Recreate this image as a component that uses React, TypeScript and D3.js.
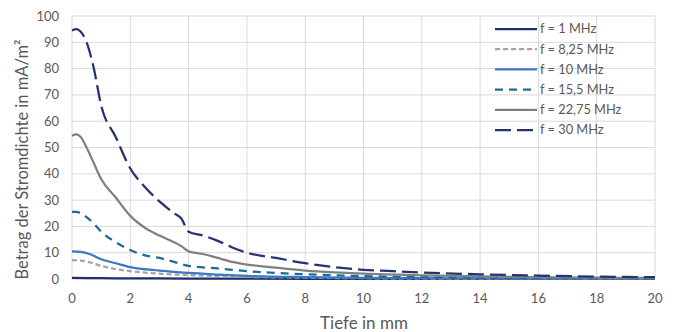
import React, { useEffect, useRef } from "react";
import * as d3 from "d3";

// depth in mm
const depth1 = [0, 1, 2, 4, 6, 10, 14, 20];
const f1 = [0.4, 0.3, 0.25, 0.15, 0.1, 0.05, 0.03, 0.02];

const depth825 = [0, 0.3, 0.6, 1, 1.5, 2, 3, 4, 5, 6, 8, 10, 12, 14, 16, 18, 20];
const f825 = [7.2, 7, 6.4, 5, 3.8, 3, 2, 1.5, 1.1, 0.8, 0.5, 0.3, 0.2, 0.15, 0.1, 0.08, 0.05];

const depth10 = [0, 0.3, 0.6, 1, 1.5, 2, 3, 4, 5, 6, 8, 10, 12, 14, 16, 18, 20];
const f10 = [10.5, 10.3, 9.5, 7.5, 6, 4.5, 3.2, 2.3, 1.7, 1.2, 0.7, 0.4, 0.3, 0.2, 0.15, 0.1, 0.1];

const depth155 = [0, 0.15, 0.3, 0.5, 0.75, 1, 1.5, 2, 2.5, 3, 3.5, 4, 5, 6, 7, 8, 9, 10, 12, 14, 16, 18, 20];
const f155 = [25.5, 25.5, 25, 23.5, 21, 18, 14, 11, 9, 8, 6.5, 5, 4, 3, 2.3, 1.8, 1.4, 1.1, 0.7, 0.5, 0.35, 0.25, 0.2];

const depth2275 = [0, 0.15, 0.3, 0.5, 0.75, 1, 1.5, 2, 2.5, 3, 3.5, 3.75, 4, 4.5, 5, 5.5, 6, 7, 8, 9, 10, 12, 14, 16, 18, 20];
const f2275 = [54.5, 55, 54, 50, 44, 38, 31, 24, 19.5, 16.5, 14, 12.5, 10.5, 9.5, 8, 6.5, 5.5, 4.3, 3.2, 2.5, 2, 1.4, 1, 0.7, 0.5, 0.4];

const depth30 = [0, 0.15, 0.3, 0.5, 0.75, 1, 1.5, 2, 2.5, 3, 3.5, 3.75, 4, 4.5, 5, 5.5, 6, 7, 8, 9, 10, 11, 12, 14, 16, 18, 20];
const f30 = [94.5, 95, 94, 90, 80, 66, 54, 42, 35, 29.5, 25, 23, 18, 16.5, 14.5, 12, 10, 8, 6, 4.5, 3.5, 3, 2.5, 1.8, 1.3, 0.9, 0.7];

const seriesNames = ["f = 1 MHz", "f = 8,25 MHz", "f = 10 MHz", "f = 15,5 MHz", "f = 22,75 MHz", "f = 30 MHz"];
const xTicks = [0, 2, 4, 6, 8, 10, 12, 14, 16, 18, 20];
const yTicks = [0, 10, 20, 30, 40, 50, 60, 70, 80, 90, 100];

const series = [
  { name: seriesNames[0], xs: depth1, ys: f1, color: "#1f2d6b", dash: null },
  { name: seriesNames[1], xs: depth825, ys: f825, color: "#a5a5a5", dash: "5,3" },
  { name: seriesNames[2], xs: depth10, ys: f10, color: "#3a7ac2", dash: null },
  { name: seriesNames[3], xs: depth155, ys: f155, color: "#1b6b9b", dash: "8,6" },
  { name: seriesNames[4], xs: depth2275, ys: f2275, color: "#808080", dash: null },
  { name: seriesNames[5], xs: depth30, ys: f30, color: "#25346e", dash: "16,6" },
];

export default function App() {
  const svgRef = useRef<SVGSVGElement>(null);

  useEffect(() => {
    const svg = d3.select(svgRef.current);
    svg.selectAll("*").remove();

    const font = "Lato, 'Open Sans', sans-serif";
    const x = d3.scaleLinear().domain([0, 20]).range([72, 655]);
    const y = d3.scaleLinear().domain([0, 100]).range([279, 16]);

    // grid
    svg
      .append("g")
      .selectAll("line")
      .data(yTicks)
      .join("line")
      .attr("x1", x(0))
      .attr("x2", x(20))
      .attr("y1", (d) => y(d))
      .attr("y2", (d) => y(d))
      .attr("stroke", "#d9d9d9")
      .attr("stroke-width", 1);
    svg
      .append("g")
      .selectAll("line")
      .data(xTicks)
      .join("line")
      .attr("x1", (d) => x(d))
      .attr("x2", (d) => x(d))
      .attr("y1", y(0))
      .attr("y2", y(100))
      .attr("stroke", "#d9d9d9")
      .attr("stroke-width", 1);

    // tick labels
    svg
      .append("g")
      .selectAll("text")
      .data(yTicks)
      .join("text")
      .attr("x", 59)
      .attr("y", (d) => y(d))
      .attr("dy", "0.35em")
      .attr("text-anchor", "end")
      .attr("font-family", font)
      .attr("font-size", 13)
      .attr("fill", "#595959")
      .text((d) => d);
    svg
      .append("g")
      .selectAll("text")
      .data(xTicks)
      .join("text")
      .attr("x", (d) => x(d))
      .attr("y", 298)
      .attr("dy", "0.35em")
      .attr("text-anchor", "middle")
      .attr("font-family", font)
      .attr("font-size", 13)
      .attr("fill", "#595959")
      .text((d) => d);

    // axis titles
    svg
      .append("text")
      .attr("x", 364)
      .attr("y", 323)
      .attr("dy", "0.35em")
      .attr("text-anchor", "middle")
      .attr("font-family", font)
      .attr("font-size", 17)
      .attr("fill", "#595959")
      .text("Tiefe in mm");
    svg
      .append("text")
      .attr("transform", `translate(22, ${(16 + 279) / 2 + 12}) rotate(-90)`)
      .attr("dy", "0.35em")
      .attr("text-anchor", "middle")
      .attr("font-family", font)
      .attr("font-size", 16.5)
      .attr("fill", "#595959")
      .text("Betrag der Stromdichte in mA/m²");

    // lines
    const line = d3
      .line<[number, number]>()
      .x((d) => x(d[0]))
      .y((d) => y(d[1]))
      .curve(d3.curveMonotoneX);

    svg
      .append("g")
      .selectAll("path")
      .data(series)
      .join("path")
      .attr("d", (s) => line(s.xs.map((v, i) => [v, s.ys[i]] as [number, number])))
      .attr("fill", "none")
      .attr("stroke", (s) => s.color)
      .attr("stroke-width", 2.25)
      .attr("stroke-dasharray", (s) => s.dash);

    // legend
    const legend = svg
      .append("g")
      .selectAll("g")
      .data(series)
      .join("g")
      .attr("transform", (_, i) => `translate(495, ${29 + i * 20.2})`);
    legend
      .append("line")
      .attr("x1", 0)
      .attr("x2", 42)
      .attr("stroke", (s) => s.color)
      .attr("stroke-width", 2.25)
      .attr("stroke-dasharray", (s) => s.dash);
    legend
      .append("text")
      .attr("x", 45)
      .attr("dy", "0.35em")
      .attr("font-family", font)
      .attr("font-size", 12.8)
      .attr("fill", "#595959")
      .text((s) => s.name);
  }, []);

  return (
    <svg
      ref={svgRef}
      width={675}
      height={332}
      style={{ position: "absolute", left: 0, top: 0, background: "#fff" }}
    />
  );
}
